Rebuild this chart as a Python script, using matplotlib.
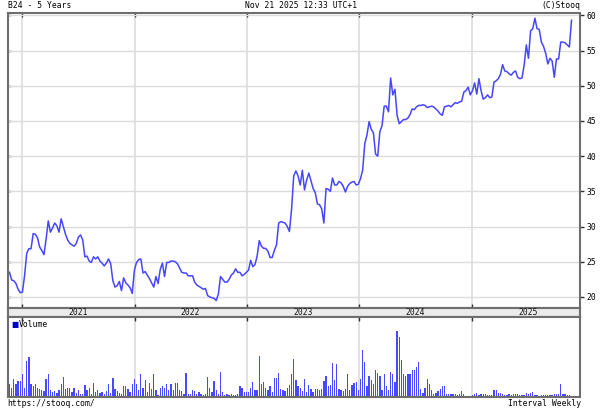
import numpy as np
import pandas as pd
import matplotlib
matplotlib.use("Agg")
import matplotlib.pyplot as plt
import matplotlib.dates as mdates

# weekly closes, B24, Nov 20 2020 .. Nov 21 2025
price = [
    23.5, 22.4, 22.3, 21.9, 21.1, 20.6, 20.7, 23.0, 26.2, 26.85,
    26.85, 29.0, 28.9, 28.4, 27.1, 26.6, 26.0, 28.2, 30.8, 29.2,
    29.8, 30.5, 30.1, 29.2, 31.1, 30.0, 28.9, 28.1, 27.6, 27.4,
    27.2, 27.6, 28.5, 28.8, 28.1, 25.7, 25.8, 25.1, 24.9, 25.7,
    25.4, 25.7, 25.1, 24.8, 24.4, 24.8, 25.4, 24.7, 22.3, 21.4,
    21.6, 22.2, 20.9, 22.7, 22.0, 21.7, 21.3, 20.5, 23.8, 24.9,
    25.3, 25.4, 23.4, 23.6, 23.1, 22.6, 22.0, 21.4, 22.9, 21.9,
    23.9, 24.8, 22.9, 24.9, 24.9, 25.1, 25.1, 25.0, 24.7, 24.1,
    23.5, 23.4, 23.4, 23.0, 23.0, 23.0, 22.1, 21.7, 21.5, 21.3,
    21.1, 21.2, 20.2, 20.0, 19.9, 19.8, 19.5, 20.4, 22.9, 22.5,
    22.1, 22.1, 22.5, 23.1, 23.4, 24.0, 23.5, 23.5, 23.0, 23.2,
    23.5, 23.8, 25.2, 24.3, 24.6, 25.8, 28.0, 27.2, 26.9, 26.9,
    26.5, 25.6, 25.6, 26.6, 27.4, 30.5, 30.7, 30.6, 30.5, 30.0,
    29.3, 32.5, 37.2, 37.9, 37.2, 35.9, 38.0, 35.2, 36.6, 37.6,
    36.5, 35.4, 34.8, 33.2, 33.1, 32.5, 30.5, 35.4, 35.3, 35.0,
    36.9, 35.9, 35.9, 36.4, 36.2, 35.7, 34.9, 35.7, 36.1, 36.3,
    36.4, 35.9, 36.0, 36.8, 38.0, 41.8, 43.0, 44.9, 43.8, 43.3,
    40.3, 40.0, 43.5, 44.3, 47.1, 47.1, 46.3, 51.1, 48.7, 49.5,
    45.8, 44.6, 44.9, 45.2, 45.2, 45.4, 45.9, 46.7, 46.6, 47.0,
    47.2, 47.2, 47.3, 47.2, 46.9, 47.0, 47.1, 47.0, 46.7, 46.4,
    46.0, 45.8, 47.0, 47.1, 47.2, 47.0, 47.3, 47.6, 47.5, 47.7,
    47.8, 49.1, 49.3, 49.8, 48.7, 49.3, 50.4, 48.8, 51.0, 49.3,
    48.1, 48.3, 48.7, 48.3, 48.4, 50.5, 50.7, 51.0, 51.6, 53.0,
    52.1, 52.0, 51.7, 51.5, 51.9, 52.1, 51.2, 51.0, 51.1, 52.9,
    55.8, 53.9, 57.8, 58.1, 59.6, 58.1, 58.0, 56.2, 55.6, 54.6,
    53.1, 53.9, 53.5, 51.2, 53.8, 53.8, 56.2, 56.2, 56.1, 55.8,
    55.5, 59.3,
]

# weekly volume (thousand shares)
volume = [
    13.3, 9.3, 18.3, 12.7, 15.7, 16.0, 22.7, 9.3, 35.7, 40.0,
    13.3, 10.7, 12.7, 9.3, 8.3, 7.3, 6.0, 17.7, 22.7, 7.3,
    5.0, 6.0, 4.0, 7.3, 12.7, 20.0, 8.3, 9.0, 9.3, 5.0,
    9.3, 4.0, 7.3, 3.3, 2.7, 11.7, 6.7, 9.3, 3.3, 14.3,
    5.0, 6.7, 4.0, 5.0, 2.7, 6.0, 13.3, 4.3, 19.3, 8.3,
    6.0, 4.0, 3.3, 11.3, 10.7, 8.3, 4.7, 12.7, 18.3, 13.3,
    7.3, 23.3, 9.3, 16.7, 5.0, 14.0, 8.3, 23.3, 7.3, 1.7,
    9.3, 10.7, 9.3, 13.3, 7.3, 13.3, 6.7, 14.0, 14.0, 6.7,
    6.0, 2.7, 24.0, 3.3, 2.7, 6.7, 6.0, 3.3, 5.0, 3.3,
    1.7, 2.7, 20.0, 9.3, 5.0, 16.0, 7.3, 3.3, 25.0, 5.0,
    2.3, 3.3, 1.7, 2.7, 2.3, 1.7, 2.7, 10.7, 9.3, 5.0,
    5.0, 5.0, 9.3, 15.0, 7.3, 7.3, 40.7, 12.7, 15.0, 9.3,
    7.3, 10.7, 5.0, 19.3, 19.3, 24.0, 8.3, 6.7, 6.0, 9.3,
    11.7, 22.7, 38.3, 16.7, 10.7, 9.3, 6.0, 17.7, 5.0, 11.7,
    8.3, 5.0, 8.3, 8.3, 7.3, 8.3, 16.0, 20.7, 10.7, 11.7,
    34.3, 17.3, 33.3, 8.3, 7.3, 6.0, 8.3, 23.3, 6.7, 11.7,
    14.0, 15.0, 7.3, 18.3, 46.7, 35.0, 10.7, 20.7, 17.3, 12.7,
    27.3, 24.0, 20.7, 7.3, 22.7, 10.7, 6.7, 25.0, 22.7, 15.0,
    66.0, 60.0, 37.3, 23.3, 20.7, 22.7, 23.3, 26.7, 27.3, 30.0,
    35.0, 8.3, 4.0, 9.3, 18.3, 13.3, 6.7, 2.7, 4.0, 6.0,
    8.3, 10.7, 10.7, 3.3, 2.7, 3.3, 2.7, 3.3, 1.7, 2.7,
    6.0, 3.3, 0.7, 0.3, 0.3, 1.7, 2.7, 4.0, 2.3, 2.7,
    3.3, 2.7, 2.3, 1.7, 1.7, 6.7, 6.7, 4.0, 4.0, 2.7,
    1.7, 1.7, 2.7, 1.7, 2.7, 2.7, 3.3, 2.3, 1.7, 2.3,
    4.3, 2.7, 4.0, 5.0, 2.3, 1.7, 1.3, 1.7, 1.7, 2.3,
    2.0, 2.3, 2.3, 2.7, 2.7, 2.7, 12.7, 2.7, 3.3, 1.7,
    2.3, 0.7,
]

years = [2021, 2022, 2023, 2024, 2025]
price_ticks = [20, 25, 30, 35, 40, 45, 50, 55, 60]

dates = pd.date_range("2020-11-20", periods=len(price), freq="7D")
x_left = mdates.date2num(pd.Timestamp("2020-11-13 12:00"))
x_right = mdates.date2num(pd.Timestamp("2025-12-18 14:00"))
year_starts = [pd.Timestamp(f"{y}-01-01") for y in years]

FONT = "DejaVu Sans Mono"
FS = 5.8
LINE = "#4646ff"
FRAME = "#6e6e6e"
GRID = "#dcdcdc"

fig = plt.figure(figsize=(6.05, 4.13), dpi=100)
W, H = 605.0, 413.0


def rect(l, t, r, b):
    return [l / W, 1 - b / H, (r - l) / W, (b - t) / H]


ax = fig.add_axes(rect(7.5, 13, 580, 307.5))
band = fig.add_axes(rect(7.5, 307.5, 580, 316.5))
axv = fig.add_axes(rect(7.5, 316.5, 580, 397))

# price panel
ax.plot(dates, price, color=LINE, lw=1.1, solid_joinstyle="round")
ax.set_xlim(x_left, x_right)
ax.set_ylim(18.5, 60.33)
ax.set_yticks(price_ticks)
ax.set_yticklabels([str(t) for t in price_ticks], fontfamily=FONT, fontsize=FS)
ax.yaxis.tick_right()
ax.tick_params(axis="y", direction="out", length=3, width=1, color="#333333", pad=1.5)
ax.set_xticks(year_starts)
ax.tick_params(axis="x", top=True, bottom=True, direction="in", length=3,
               width=1, color="#333333", labelbottom=False)
ax.grid(True, axis="y", color=GRID, lw=1)
ax.grid(True, axis="x", color="#e2e2e2", lw=1.4)
ax.set_axisbelow(True)
left_ticks = ax.secondary_yaxis("left")
left_ticks.set_yticks(price_ticks)
left_ticks.tick_params(direction="in", length=2.5, width=1, color="#333333", labelleft=False)
left_ticks.spines["left"].set_visible(False)

# date band
band.set_facecolor("#ebebeb")
band.set_xlim(x_left, x_right)
band.set_ylim(0, 1)
band.set_xticks([])
band.set_yticks([])
for y in years:
    band.text(pd.Timestamp(f"{y}-07-02"), 0.45, str(y), ha="center", va="center",
              fontfamily=FONT, fontsize=FS, color="#111111")

# volume panel
axv.bar(dates, volume, width=4.2, color="#4848ff", lw=0)
axv.set_xlim(x_left, x_right)
axv.set_ylim(0, 80.5)
axv.set_yticks([])
axv.set_xticks(year_starts)
axv.tick_params(axis="x", top=True, bottom=False, direction="in", length=3,
                width=1, color="#333333", labelbottom=False)
axv.grid(True, axis="x", color="#e2e2e2", lw=1.4)
axv.set_axisbelow(True)
axv.text(0.006, 0.9, "\u25a0", transform=axv.transAxes, fontsize=5.5,
         color="#0000c8", va="center", ha="left", fontfamily="DejaVu Sans")
axv.text(0.019, 0.9, "Volume", transform=axv.transAxes, fontsize=FS,
         va="center", ha="left", fontfamily=FONT)

for a in (ax, band, axv):
    for s in a.spines.values():
        s.set_color(FRAME)
        s.set_linewidth(1.5)

# header / footer
fig.text(7.5 / W, 1 - 5.5 / H, "B24 - 5 Years", fontfamily=FONT, fontsize=FS,
         va="center", ha="left")
fig.text(301 / W, 1 - 5.5 / H, "Nov 21 2025 12:33 UTC+1", fontfamily=FONT,
         fontsize=FS, va="center", ha="center")
fig.text(580 / W, 1 - 5.5 / H, "(C)Stooq", fontfamily=FONT, fontsize=FS,
         va="center", ha="right")
fig.text(7.5 / W, 1 - 403.5 / H, "https://stooq.com/", fontfamily=FONT,
         fontsize=FS, va="center", ha="left")
fig.text(581 / W, 1 - 403.5 / H, "Interval Weekly", fontfamily=FONT,
         fontsize=FS, va="center", ha="right")

fig.savefig("out.png", dpi=100, facecolor="white")
